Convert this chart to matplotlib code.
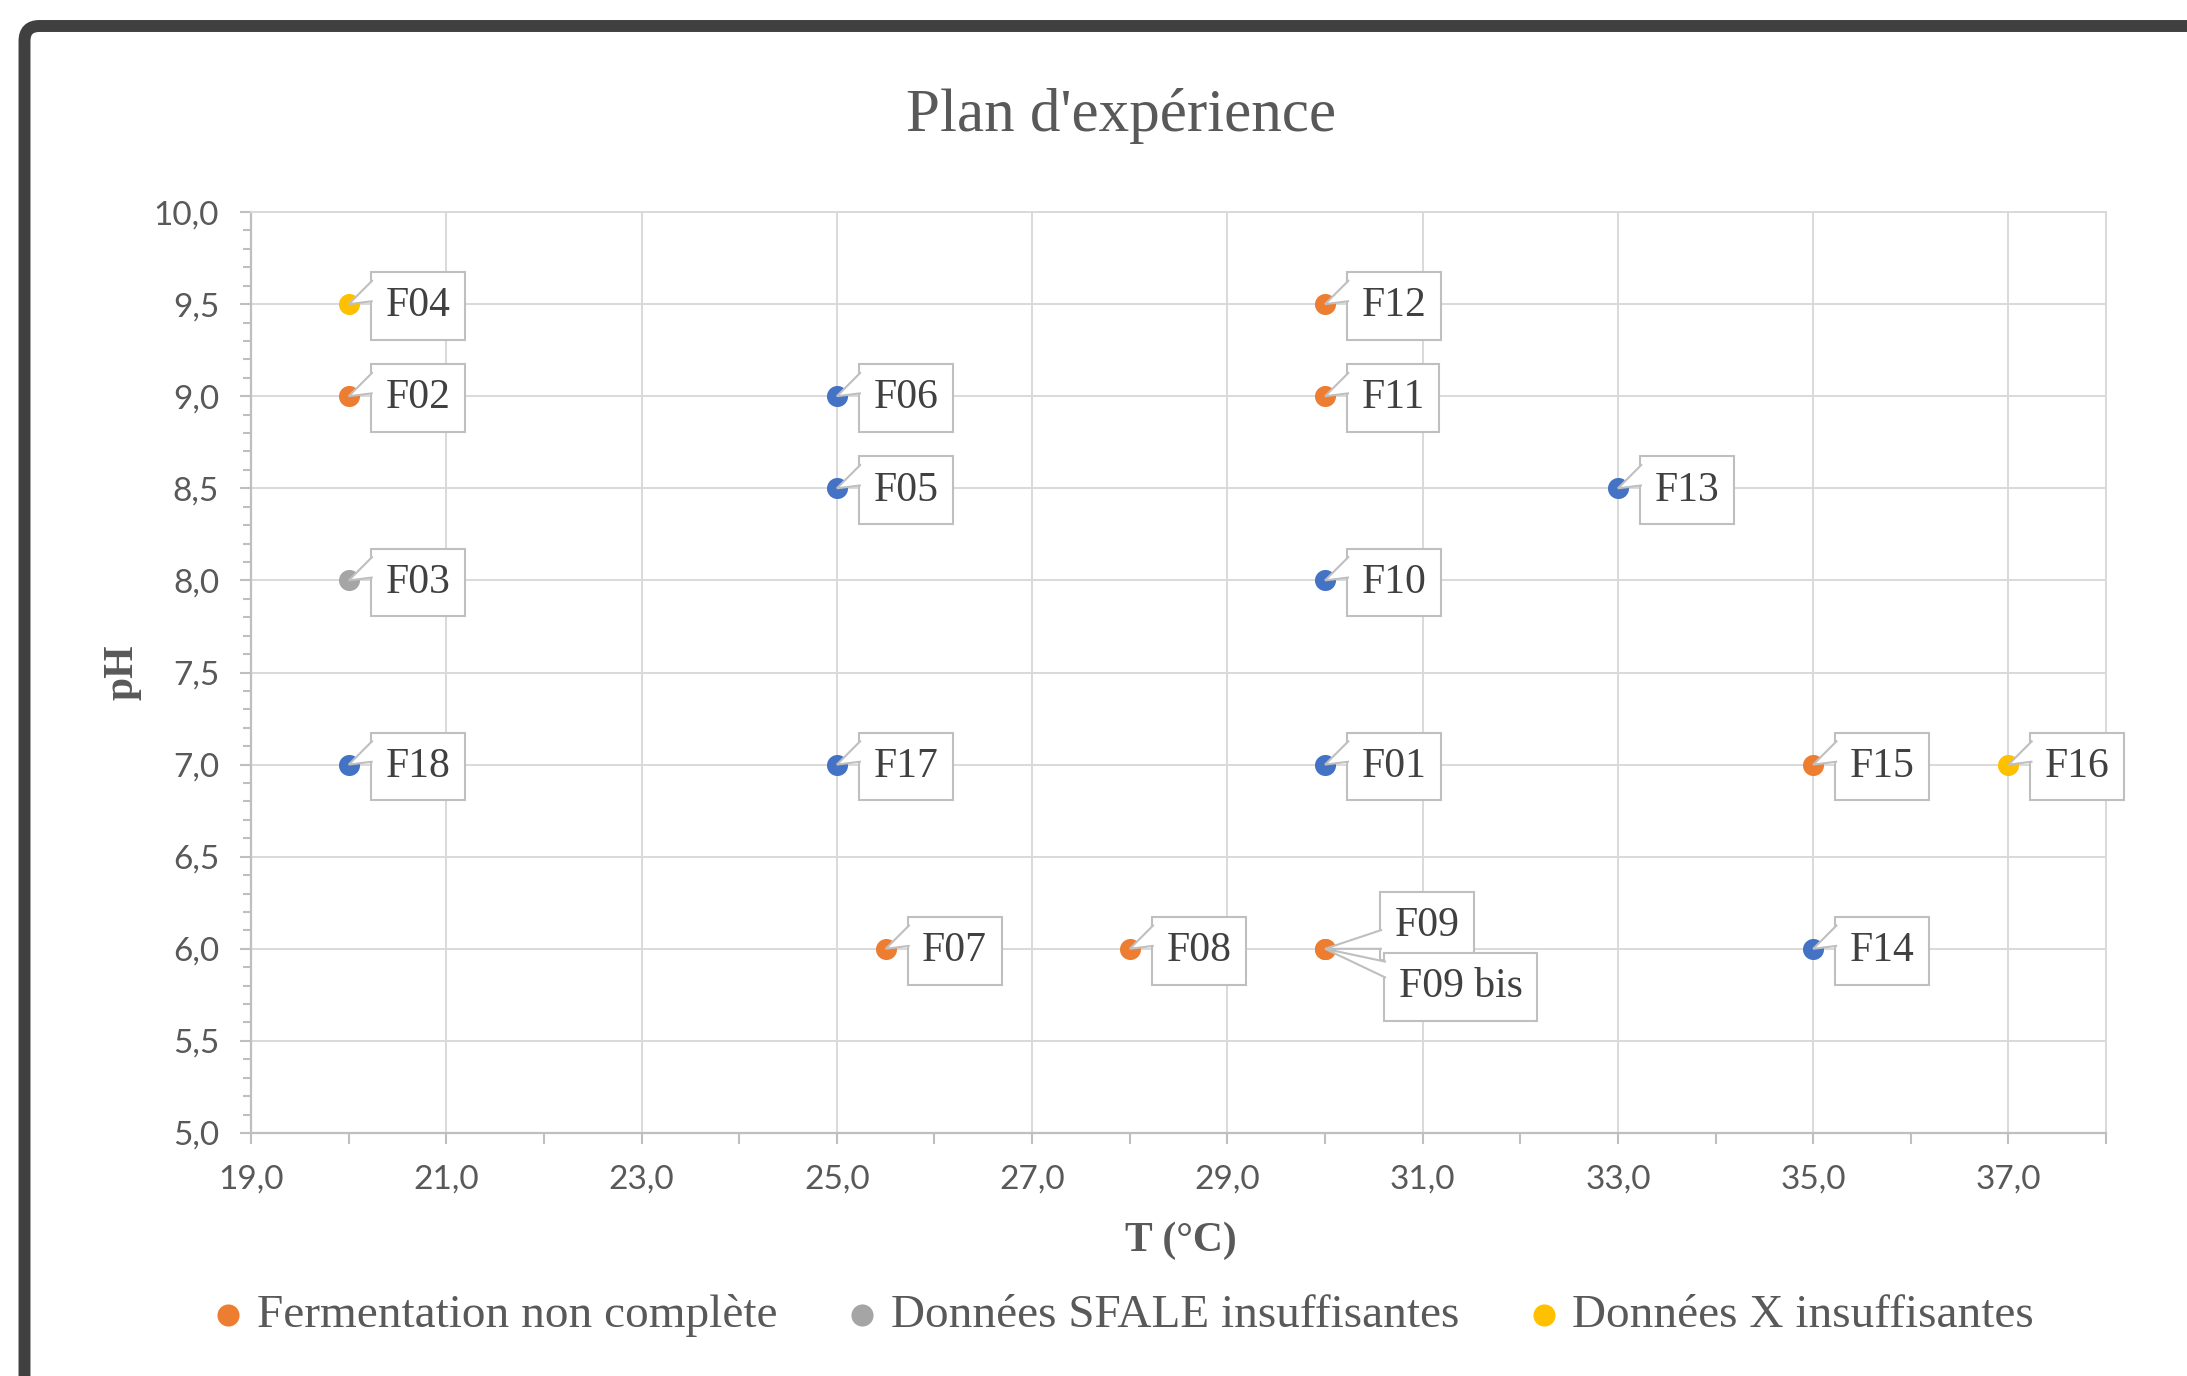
import matplotlib
matplotlib.use("Agg")
import matplotlib.pyplot as plt
import numpy as np
from matplotlib.patches import FancyBboxPatch, Polygon
from matplotlib.ticker import FixedLocator, MultipleLocator, FuncFormatter
from matplotlib.transforms import IdentityTransform

# Valeurs (T en °C, pH)
bleu_noms = ["F18", "F17", "F01", "F14", "F13", "F10", "F05", "F06"]
bleu_T = [20, 25, 30, 35, 33, 30, 25, 25]
bleu_pH = [7.0, 7.0, 7.0, 6.0, 8.5, 8.0, 8.5, 9.0]

orange_noms = ["F02", "F07", "F08", "F09", "F09 bis", "F11", "F12", "F15"]
orange_T = [20, 25.5, 28, 30, 30, 30, 30, 35]
orange_pH = [9.0, 6.0, 6.0, 6.0, 6.0, 9.0, 9.5, 7.0]

gris_noms = ["F03"]
gris_T = [20]
gris_pH = [8.0]

jaune_noms = ["F04", "F16"]
jaune_T = [20, 37]
jaune_pH = [9.5, 7.0]

legendes = ["Fermentation non complète", "Données SFALE insuffisantes", "Données X insuffisantes"]

# Couleurs (palette Office)
BLEU = "#4472C4"
ORANGE = "#ED7D31"
GRIS = "#A5A5A5"
JAUNE = "#FFC000"
TEXTE = "#595959"
TRAIT = "#bfbfbf"
GRILLE = "#d9d9d9"
SERIF = "Liberation Serif"

# placement des etiquettes : (decalage boite x, decalage y, haut du coin, bas du coin) en pixels
DECALAGE_DEFAUT = (22, 0, 24, 3)
DECALAGES = {
    "F09": (55, 25, 19, 0),
    "F09 bis": (59, -36, -13, -29),
}

plt.rcParams["font.family"] = "Lato"

fig = plt.figure(figsize=(21.87, 13.76), dpi=100)
ax = fig.add_axes([0.1148, 0.1766, 0.8482, 0.6693])

# cadre sombre arrondi autour du graphique
cadre = FancyBboxPatch((0.245, -1.0), 30, 14.5, boxstyle="round,pad=0,rounding_size=0.15",
                       transform=fig.dpi_scale_trans, fc="none", ec="#404040", lw=8.6)
fig.patches.append(cadre)

series = [
    (bleu_noms, bleu_T, bleu_pH, BLEU, None),
    (orange_noms, orange_T, orange_pH, ORANGE, legendes[0]),
    (gris_noms, gris_T, gris_pH, GRIS, legendes[1]),
    (jaune_noms, jaune_T, jaune_pH, JAUNE, legendes[2]),
]

for noms, T, pH, couleur, leg in series:
    ax.scatter(T, pH, s=230, color=couleur, linewidths=0, zorder=3,
               label=leg if leg else "_nolegend_")

ax.set_xlim(19, 38)
ax.set_ylim(5, 10)
ax.autoscale(False)

fmt = FuncFormatter(lambda v, _: f"{v:.1f}".replace(".", ","))
ax.xaxis.set_major_locator(FixedLocator(np.arange(19, 38, 2)))
ax.xaxis.set_minor_locator(FixedLocator(np.arange(20, 39, 2)))
ax.yaxis.set_major_locator(MultipleLocator(0.5))
ax.yaxis.set_minor_locator(MultipleLocator(0.1))
ax.xaxis.set_major_formatter(fmt)
ax.yaxis.set_major_formatter(fmt)

ax.grid(True, which="major", color=GRILLE, lw=1.4, zorder=0)
ax.set_axisbelow(True)
for s in ax.spines.values():
    s.set_color(GRILLE)
    s.set_linewidth(1.4)
ax.spines["left"].set_color(TRAIT)
ax.spines["bottom"].set_color(TRAIT)
ax.spines["left"].set_linewidth(1.6)
ax.spines["bottom"].set_linewidth(1.6)

ax.tick_params(which="major", length=8, width=1.5, color=TRAIT, labelsize=24,
               labelcolor=TEXTE, pad=15)
ax.tick_params(axis="y", which="minor", length=5.5, width=1.5, color=TRAIT)
ax.tick_params(axis="x", which="minor", length=8, width=1.5, color=TRAIT)

# etiquettes de donnees en bulles
pad = 0.35
taille = 30
pad_px = pad * taille * fig.dpi / 72
z = 4.0
for noms, T, pH, couleur, leg in series:
    for nom, x, y in zip(noms, T, pH):
        dx, dy, haut, bas = DECALAGES.get(nom, DECALAGE_DEFAUT)
        ax.annotate(nom, (x, y), xytext=(dx + pad_px, dy - 2), textcoords="offset pixels",
                    ha="left", va="center", fontsize=taille, family=SERIF, color="#404040",
                    bbox=dict(boxstyle=f"square,pad={pad}", fc="white", ec=TRAIT, lw=1.5),
                    zorder=z)
        px, py = ax.transData.transform((x, y))
        bx = px + dx + 2
        coin = Polygon([(bx, py + haut), (px, py), (bx, py + bas)], closed=False,
                       transform=IdentityTransform(), fc="white", ec=TRAIT, lw=1.5,
                       zorder=z + 0.005, clip_on=False)
        ax.add_patch(coin)
        z += 0.01

fig.text(0.5127, 0.916, "Plan d'expérience", ha="center", va="center",
         fontsize=44, family=SERIF, color=TEXTE)
fig.text(0.540, 0.098, "T (°C)", ha="center", va="center", fontsize=30,
         family=SERIF, weight="bold", color=TEXTE)
fig.text(0.0562, 0.5116, "pH", ha="center", va="center", rotation=90, fontsize=30,
         family=SERIF, weight="bold", color=TEXTE)

fig.legend(loc="center", bbox_to_anchor=(0.514, 0.044), ncol=3, frameon=False,
           prop=dict(family=SERIF, size=34), labelcolor=TEXTE, handlelength=0.6,
           handletextpad=0.3, columnspacing=1.5, markerscale=1.05)

fig.savefig("out.png", dpi=100, facecolor="white")
